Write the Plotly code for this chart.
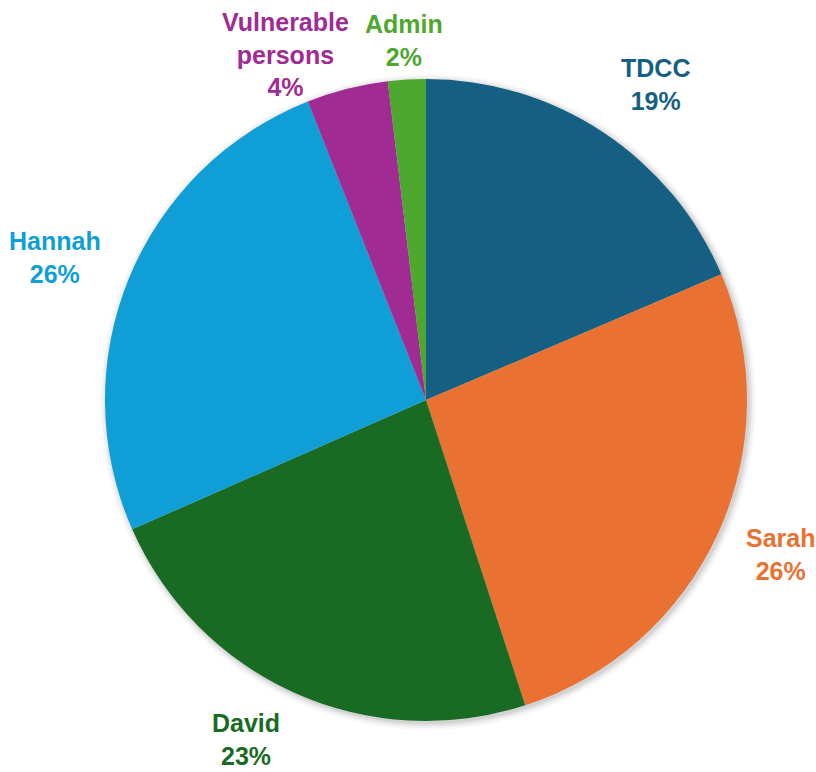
import math
import plotly.graph_objects as go

# ---- data ----
categories = ["TDCC", "Sarah", "David", "Hannah", "Vulnerable persons", "Admin"]
label_text = ["TDCC", "Sarah", "David", "Hannah", "Vulnerable<br>persons", "Admin"]
values = [18.6, 26.4, 23.4, 25.6, 4.1, 1.9]
colors = ["#156082", "#E97132", "#196B24", "#0F9ED5", "#A02B93", "#4EA72E"]

# ---- layout settings ----
W, H = 816, 772
CX, CY, R = 426, 400, 321          # pie centre / radius in pixels
label_factor = [1.2, 1.2, 1.16, 1.2, 1.1, 1.07]
label_shift = [(17, -6), (4, 5), (-28, 0), (-15, -4), (-54, 3), (-2, 17)]


def domain(cx, cy, r):
    return dict(x=[(cx - r) / W, (cx + r) / W],
                y=[(H - cy - r) / H, (H - cy + r) / H])


fig = go.Figure()

# soft drop shadow behind the pie
for extra, alpha in [(7, 0.025), (5, 0.035), (3, 0.05), (1, 0.07)]:
    fig.add_trace(go.Pie(
        values=[1], labels=[""], sort=False,
        marker=dict(colors=[f"rgba(0,0,0,{alpha})"], line=dict(width=0)),
        textinfo="none", hoverinfo="skip", showlegend=False,
        domain=domain(CX + 2, CY + 2, R + extra),
    ))

fig.add_trace(go.Pie(
    labels=categories,
    values=values,
    sort=False,
    direction="clockwise",
    rotation=0,
    marker=dict(colors=colors, line=dict(width=0)),
    textinfo="none",
    hoverinfo="label+percent",
    showlegend=False,
    domain=domain(CX, CY, R),
))

total = sum(values)
cum = 0.0
annotations = []
for i, v in enumerate(values):
    mid = (cum + v / 2) / total * 2 * math.pi
    cum += v
    rr = R * label_factor[i]
    px = CX + rr * math.sin(mid)
    py = CY - rr * math.cos(mid)
    pct = round(v / total * 100)
    annotations.append(dict(
        x=px / W, y=1 - py / H, xref="paper", yref="paper",
        xanchor="center", yanchor="middle",
        xshift=label_shift[i][0], yshift=label_shift[i][1],
        text=f"{label_text[i]}<br>{pct}%",
        showarrow=False, align="center",
        font=dict(family="Liberation Sans, Arial, sans-serif", size=25,
                  color=colors[i], weight="bold"),
    ))

fig.update_layout(
    width=W, height=H,
    margin=dict(l=0, r=0, t=0, b=0),
    paper_bgcolor="white",
    plot_bgcolor="white",
    annotations=annotations,
)

fig.write_html("out.html", config={"displayModeBar": False},
               post_script="document.body.style.margin='0';")
